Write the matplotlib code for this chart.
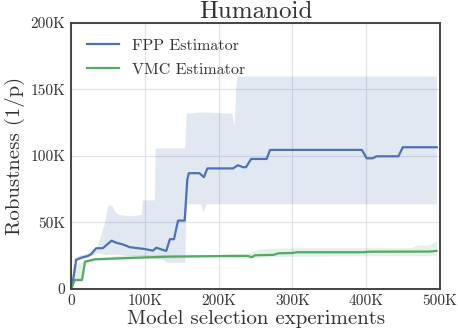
import matplotlib
matplotlib.use('Agg')
import matplotlib.pyplot as plt
from matplotlib.ticker import FuncFormatter

plt.rcParams['font.family'] = 'serif'
plt.rcParams['font.serif'] = ['cmr10', 'DejaVu Serif']
plt.rcParams['axes.unicode_minus'] = False
plt.rcParams['axes.formatter.use_mathtext'] = True

# values in thousands
fpp_x = [0, 1, 7, 14, 23, 27.5, 34, 43, 55, 61, 70, 79.5, 91, 100, 111, 115.6, 122, 129, 134,
         139.5, 145, 154, 157.5, 159.5, 174, 180, 184.7, 219.5, 226, 233, 237, 244, 265,
         269.6, 394, 400.5, 408.7, 414, 443.5, 449.4, 495.5]
fpp_y = [0, 0, 21.8, 23.5, 24.8, 26.3, 30.6, 30.6, 36.3, 34.8, 33.5, 31.4, 30.6, 30, 28.8, 31,
         29.8, 28.6, 37.4, 37.4, 51.4, 51.4, 82, 87, 87, 84, 90.6, 90.6, 93, 91.5, 91.5, 97.7,
         97.7, 104.5, 104.5, 98.2, 98.2, 99.7, 99.7, 106.5, 106.5]

fpp_band_x = [0, 3, 8, 15, 22, 28, 34, 40, 45, 50, 55, 60, 64, 80, 95, 97, 100, 113, 114, 125,
              130, 154, 156, 175, 179, 183, 218, 221, 223, 225, 300, 400, 495]
fpp_hi = [1, 23, 25, 26, 27, 29, 31, 40, 49, 63, 63, 58, 56, 55, 56, 67, 67, 67, 106, 106,
          106, 106, 132, 133, 133, 133, 132, 122, 150, 160, 160, 160, 160]
fpp_lo = [0, 20, 22, 23, 24, 25, 27, 27, 26, 26, 26, 26, 26, 25, 25, 25, 24, 23, 23, 22,
          20, 20, 64, 64, 58, 64, 64, 64, 64, 64, 64, 64, 64]

vmc_x = [0, 5, 15, 19, 25, 32, 64, 131, 215, 240, 245, 249, 274, 281, 299, 306, 396, 405, 486, 495]
vmc_y = [0, 6.8, 6.8, 20.5, 21.3, 22.3, 23, 24.3, 24.8, 24.8, 23.8, 25.3, 25.6, 26.8, 27, 27.6,
         27.6, 28, 28.1, 28.6]

vmc_band_x = [0, 3, 15, 19, 25, 40, 60, 100, 150, 200, 240, 255, 275, 300, 400, 460, 470, 485, 495]
vmc_hi = [0, 19, 20, 21, 22, 23.5, 25, 26, 26, 26, 27, 30, 30.6, 31, 31, 31, 33, 33, 36]
vmc_lo = [0, 5, 6, 18, 20.5, 21.5, 22, 23, 23.5, 24, 23, 24, 24.3, 24.5, 25, 25, 25, 25, 25]

x_ticks = [0, 100, 200, 300, 400, 500]
y_ticks = [0, 50, 100, 150, 200]

blue = '#4C72B0'
green = '#55A868'
k = 1000

fig = plt.figure(figsize=(4.58, 3.36), dpi=100)
ax = fig.add_axes([0.155, 0.140, 0.806, 0.792])

ax.fill_between([v * k for v in fpp_band_x], [v * k for v in fpp_lo], [v * k for v in fpp_hi],
                color=blue, alpha=0.16, linewidth=0)
ax.fill_between([v * k for v in vmc_band_x], [v * k for v in vmc_lo], [v * k for v in vmc_hi],
                color=green, alpha=0.16, linewidth=0)
ax.plot([v * k for v in fpp_x], [v * k for v in fpp_y], color=blue, lw=1.6, label='FPP Estimator')
ax.plot([v * k for v in vmc_x], [v * k for v in vmc_y], color=green, lw=1.6, label='VMC Estimator')

ax.set_xlim(0, 500 * k)
ax.set_ylim(0, 200 * k)
ax.set_xticks([v * k for v in x_ticks])
ax.set_yticks([v * k for v in y_ticks])
fmt = FuncFormatter(lambda v, p: '0' if v == 0 else '%dK' % round(v / k))
ax.xaxis.set_major_formatter(fmt)
ax.yaxis.set_major_formatter(fmt)
ax.tick_params(length=0, labelsize=11, pad=4, labelcolor='#333333')

ax.grid(True, color='#e0e3e7', lw=0.9)
ax.set_axisbelow(True)
for s in ax.spines.values():
    s.set_color('#444444')
    s.set_linewidth(1.4)

ax.set_title('Humanoid', fontsize=18, pad=3, color='#333333')
ax.set_xlabel('Model selection experiments', fontsize=15, labelpad=1, color='#333333')
ax.set_ylabel('Robustness (1/p)', fontsize=15, labelpad=4, color='#333333')
ax.legend(loc='upper left', frameon=False, fontsize=11.5, handlelength=2.0,
          borderaxespad=0.6, labelspacing=0.6, labelcolor='#333333')

fig.savefig('out.png', dpi=100)
